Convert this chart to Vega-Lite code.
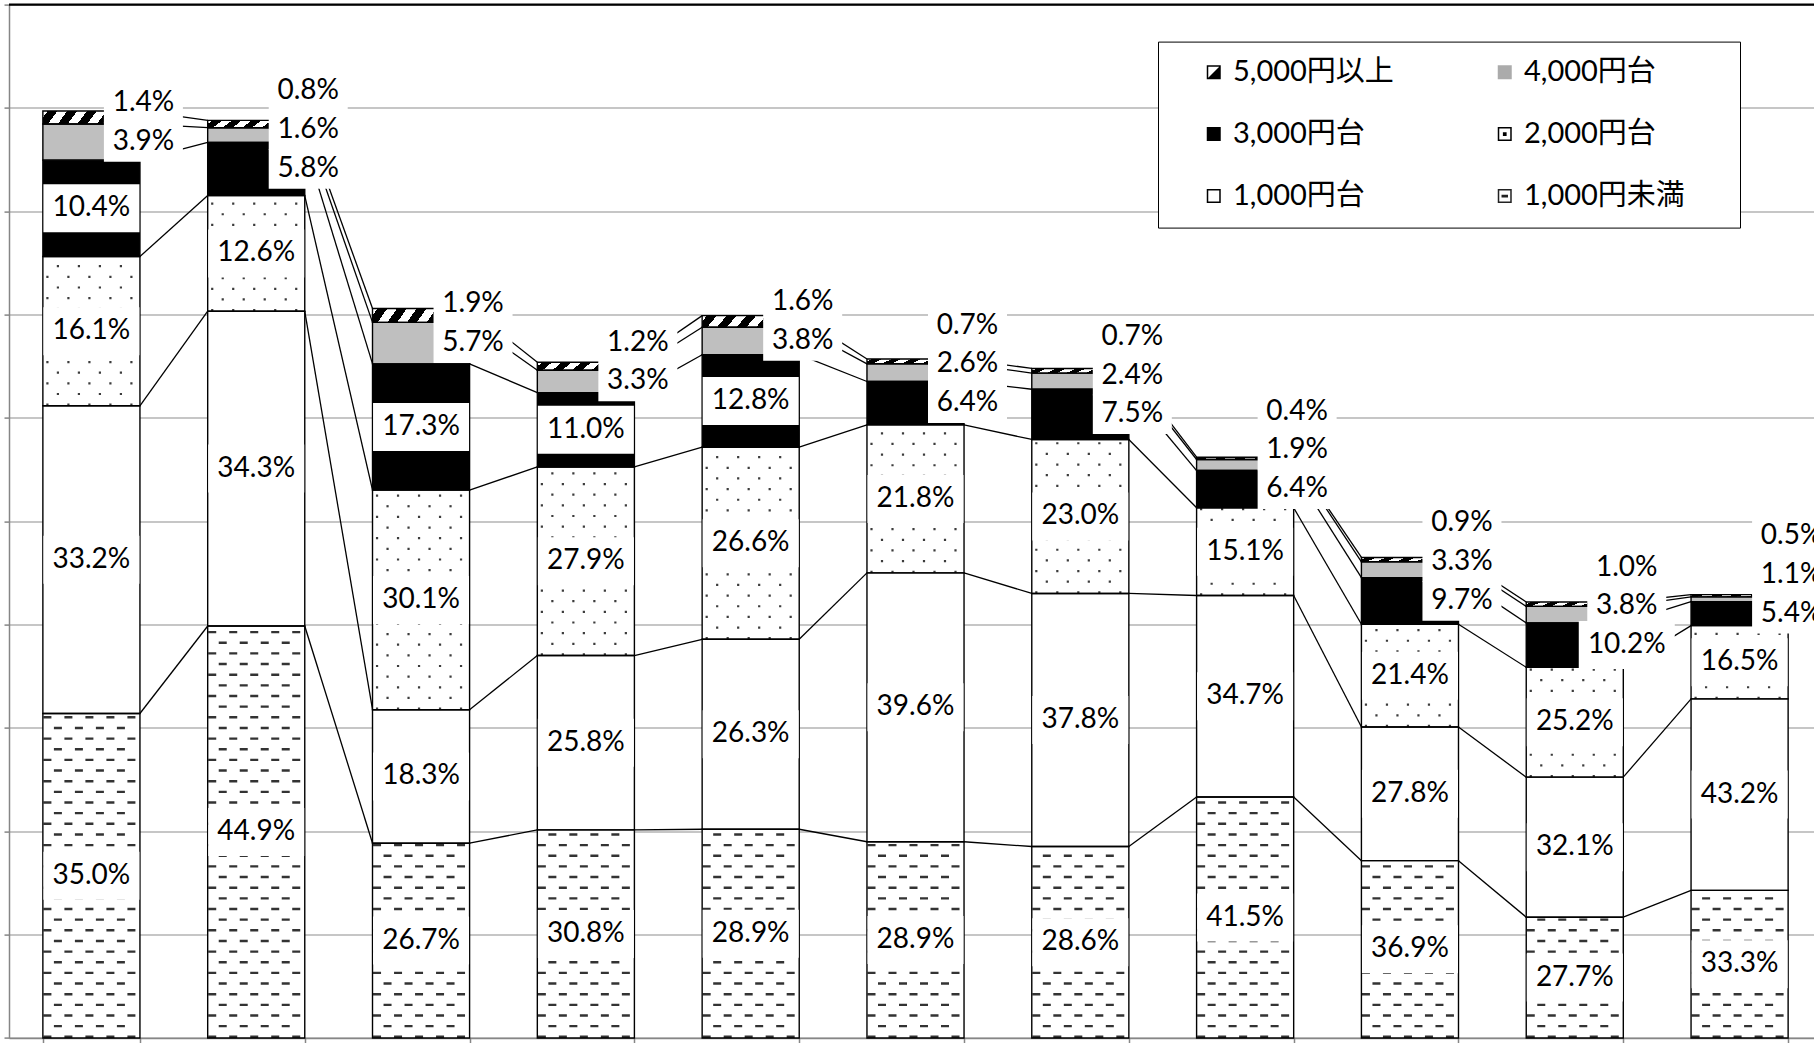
{
  "$schema": "https://vega.github.io/schema/vega-lite/v6.json",
  "width": 1805,
  "height": 1033.4,
  "autosize": {"type": "none"},
  "padding": {"left": 9, "right": 0, "top": 4.6, "bottom": 5},
  "background": "white",
  "data": {
    "values": [
      {"bar": 1, "segment": "1,000円未満", "value": 31.40, "pct": 35.0},
      {"bar": 1, "segment": "1,000円台", "value": 29.78, "pct": 33.2},
      {"bar": 1, "segment": "2,000円台", "value": 14.44, "pct": 16.1},
      {"bar": 1, "segment": "3,000円台", "value": 9.33, "pct": 10.4},
      {"bar": 1, "segment": "4,000円台", "value": 3.50, "pct": 3.9},
      {"bar": 1, "segment": "5,000円以上", "value": 1.26, "pct": 1.4},
      {"bar": 2, "segment": "1,000円未満", "value": 39.87, "pct": 44.9},
      {"bar": 2, "segment": "1,000円台", "value": 30.46, "pct": 34.3},
      {"bar": 2, "segment": "2,000円台", "value": 11.19, "pct": 12.6},
      {"bar": 2, "segment": "3,000円台", "value": 5.15, "pct": 5.8},
      {"bar": 2, "segment": "4,000円台", "value": 1.42, "pct": 1.6},
      {"bar": 2, "segment": "5,000円以上", "value": 0.71, "pct": 0.8},
      {"bar": 3, "segment": "1,000円未満", "value": 18.85, "pct": 26.7},
      {"bar": 3, "segment": "1,000円台", "value": 12.92, "pct": 18.3},
      {"bar": 3, "segment": "2,000円台", "value": 21.25, "pct": 30.1},
      {"bar": 3, "segment": "3,000円台", "value": 12.21, "pct": 17.3},
      {"bar": 3, "segment": "4,000円台", "value": 4.02, "pct": 5.7},
      {"bar": 3, "segment": "5,000円以上", "value": 1.34, "pct": 1.9},
      {"bar": 4, "segment": "1,000円未満", "value": 20.14, "pct": 30.8},
      {"bar": 4, "segment": "1,000円台", "value": 16.87, "pct": 25.8},
      {"bar": 4, "segment": "2,000円台", "value": 18.25, "pct": 27.9},
      {"bar": 4, "segment": "3,000円台", "value": 7.19, "pct": 11.0},
      {"bar": 4, "segment": "4,000円台", "value": 2.16, "pct": 3.3},
      {"bar": 4, "segment": "5,000円以上", "value": 0.78, "pct": 1.2},
      {"bar": 5, "segment": "1,000円未満", "value": 20.20, "pct": 28.9},
      {"bar": 5, "segment": "1,000円台", "value": 18.38, "pct": 26.3},
      {"bar": 5, "segment": "2,000円台", "value": 18.59, "pct": 26.6},
      {"bar": 5, "segment": "3,000円台", "value": 8.95, "pct": 12.8},
      {"bar": 5, "segment": "4,000円台", "value": 2.66, "pct": 3.8},
      {"bar": 5, "segment": "5,000円以上", "value": 1.12, "pct": 1.6},
      {"bar": 6, "segment": "1,000円未満", "value": 18.99, "pct": 28.9},
      {"bar": 6, "segment": "1,000円台", "value": 26.02, "pct": 39.6},
      {"bar": 6, "segment": "2,000円台", "value": 14.32, "pct": 21.8},
      {"bar": 6, "segment": "3,000円台", "value": 4.20, "pct": 6.4},
      {"bar": 6, "segment": "4,000円台", "value": 1.71, "pct": 2.6},
      {"bar": 6, "segment": "5,000円以上", "value": 0.46, "pct": 0.7},
      {"bar": 7, "segment": "1,000円未満", "value": 18.53, "pct": 28.6},
      {"bar": 7, "segment": "1,000円台", "value": 24.49, "pct": 37.8},
      {"bar": 7, "segment": "2,000円台", "value": 14.90, "pct": 23.0},
      {"bar": 7, "segment": "3,000円台", "value": 4.86, "pct": 7.5},
      {"bar": 7, "segment": "4,000円台", "value": 1.56, "pct": 2.4},
      {"bar": 7, "segment": "5,000円以上", "value": 0.45, "pct": 0.7},
      {"bar": 8, "segment": "1,000円未満", "value": 23.32, "pct": 41.5},
      {"bar": 8, "segment": "1,000円台", "value": 19.50, "pct": 34.7},
      {"bar": 8, "segment": "2,000円台", "value": 8.49, "pct": 15.1},
      {"bar": 8, "segment": "3,000円台", "value": 3.60, "pct": 6.4},
      {"bar": 8, "segment": "4,000円台", "value": 1.07, "pct": 1.9},
      {"bar": 8, "segment": "5,000円以上", "value": 0.22, "pct": 0.4},
      {"bar": 9, "segment": "1,000円未満", "value": 17.16, "pct": 36.9},
      {"bar": 9, "segment": "1,000円台", "value": 12.93, "pct": 27.8},
      {"bar": 9, "segment": "2,000円台", "value": 9.95, "pct": 21.4},
      {"bar": 9, "segment": "3,000円台", "value": 4.51, "pct": 9.7},
      {"bar": 9, "segment": "4,000円台", "value": 1.53, "pct": 3.3},
      {"bar": 9, "segment": "5,000円以上", "value": 0.42, "pct": 0.9},
      {"bar": 10, "segment": "1,000円未満", "value": 11.69, "pct": 27.7},
      {"bar": 10, "segment": "1,000円台", "value": 13.55, "pct": 32.1},
      {"bar": 10, "segment": "2,000円台", "value": 10.63, "pct": 25.2},
      {"bar": 10, "segment": "3,000円台", "value": 4.30, "pct": 10.2},
      {"bar": 10, "segment": "4,000円台", "value": 1.60, "pct": 3.8},
      {"bar": 10, "segment": "5,000円以上", "value": 0.42, "pct": 1.0},
      {"bar": 11, "segment": "1,000円未満", "value": 14.29, "pct": 33.3},
      {"bar": 11, "segment": "1,000円台", "value": 18.53, "pct": 43.2},
      {"bar": 11, "segment": "2,000円台", "value": 7.08, "pct": 16.5},
      {"bar": 11, "segment": "3,000円台", "value": 2.32, "pct": 5.4},
      {"bar": 11, "segment": "4,000円台", "value": 0.47, "pct": 1.1},
      {"bar": 11, "segment": "5,000円以上", "value": 0.21, "pct": 0.5}
    ]
  },
  "transform": [
    {"calculate": "indexof(['1,000円未満','1,000円台','2,000円台','3,000円台','4,000円台','5,000円以上'], datum.segment)", "as": "k"},
    {"stack": "value", "groupby": ["bar"], "sort": [{"field": "k", "order": "ascending"}], "as": ["v0", "v1"]},
    {"window": [{"op": "lead", "field": "bar", "as": "nextBar"}, {"op": "lead", "field": "v1", "as": "v1next"}], "groupby": ["segment"], "sort": [{"field": "bar", "order": "ascending"}]},
    {"calculate": "(datum.v0 + datum.v1) / 2", "as": "c"},
    {"calculate": "datum.k == 1 ? datum.c : null", "as": "c1t"},
    {"calculate": "datum.k == 3 ? (datum.value < 6 ? datum.c : -999) : null", "as": "r3t"},
    {"calculate": "datum.k == 4 ? datum.c : null", "as": "c4t"},
    {"calculate": "datum.k == 5 ? datum.c : null", "as": "c5t"},
    {"joinaggregate": [{"op": "max", "field": "c1t", "as": "C1"}, {"op": "max", "field": "r3t", "as": "R3"}, {"op": "max", "field": "c4t", "as": "C4"}, {"op": "max", "field": "c5t", "as": "C5"}], "groupby": ["bar"]},
    {"calculate": "max(datum.C4, datum.R3 + 3.75)", "as": "L4"},
    {"calculate": "max(datum.C5, datum.L4 + 3.75)", "as": "L5"},
    {"calculate": "datum.k == 5 ? datum.L5 : (datum.k == 4 ? datum.L4 : datum.c)", "as": "ly"},
    {"calculate": "(datum.k >= 4 || datum.value < 6) ? 'right' : 'inside'", "as": "place"},
    {"calculate": "format(datum.pct, '.1f') + '%'", "as": "lbl"}
  ],
  "layer": [
    {
      "mark": {"type": "point", "filled": true, "size": 2162, "opacity": 1, "strokeWidth": 0},
      "encoding": {
        "x": {"field": "bar", "type": "ordinal", "title": null},
        "y": {"field": "C1", "type": "quantitative", "title": null},
        "color": {"field": "segment", "type": "nominal", "title": "\u00a0",
          "scale": {"domain": ["5,000円以上","4,000円台","3,000円台","2,000円台","1,000円台","1,000円未満"], "range": ["#000000","#ababab","#000000","#000000","#000000","#222222"]},
          "legend": {"orient": "none", "legendX": 1149, "legendY": 37, "columns": 2, "direction": "horizontal", "padding": 16,
            "titleOrient": "right", "titlePadding": 38.5, "titleFontSize": 29, "titleFont": "Lato",
            "strokeColor": "black", "fillColor": "white", "clipHeight": 29,
            "rowPadding": 32, "columnPadding": 71, "labelOffset": 12, "symbolSize": 2162,
            "labelFont": "Lato, Noto Sans CJK JP", "labelFontSize": 29, "labelColor": "black", "labelLimit": 400,
            "symbolOpacity": 1, "symbolStrokeWidth": 0}},
        "shape": {"field": "segment", "type": "nominal", "title": "\u00a0",
          "scale": {"domain": ["5,000円以上","4,000円台","3,000円台","2,000円台","1,000円台","1,000円未満"],
            "range": [
              "M0.398,-0.301H1V0.301H0.398Z M0.463,-0.236V0.236H0.935V-0.236Z M0.935,-0.236V0.236H0.463Z",
              "M0.398,-0.301H1V0.301H0.398Z",
              "M0.398,-0.301H1V0.301H0.398Z",
              "M0.398,-0.301H1V0.301H0.398Z M0.463,-0.236V0.236H0.935V-0.236Z M0.619,-0.08H0.779V0.08H0.619Z",
              "M0.398,-0.301H1V0.301H0.398Z M0.463,-0.236V0.236H0.935V-0.236Z",
              "M0.398,-0.301H1V0.301H0.398Z M0.463,-0.236V0.236H0.935V-0.236Z M0.56,-0.055H0.84V0.055H0.56Z"
            ]}}
      }
    },
    {
      "mark": {"type": "bar"},
      "encoding": {
        "x": {"field": "bar", "type": "ordinal", "title": null,
              "scale": {"type": "band", "domain": [1,2,3,4,5,6,7,8,9,10,11], "range": [0, 1813], "paddingInner": 0.411, "paddingOuter": 0.2055}},
        "y": {"field": "v0", "type": "quantitative", "title": null, "scale": {"domain": [0, 100], "nice": false, "zero": true}},
        "y2": {"field": "v1"},
        "fill": {"field": "segment", "type": "nominal", "legend": null,
                 "scale": {"domain": ["1,000円未満","1,000円台","2,000円台","3,000円台","4,000円台","5,000円以上"], "range": ["#ffffff","#ffffff","#ffffff","#000000","#bfbfbf","#ffffff"]}}
      }
    },
    {"transform": [{"filter": "datum.k == 0"}], "mark": {"type": "rule", "color": "#333333", "strokeWidth": 8, "strokeDash": [2.4, 18.9], "xOffset": -44}, "encoding": {"x": {"field": "bar", "type": "ordinal", "title": null}, "y": {"field": "v0", "type": "quantitative", "title": null}, "y2": {"field": "v1"}}},
    {"transform": [{"filter": "datum.k == 0"}], "mark": {"type": "rule", "color": "#333333", "strokeWidth": 8, "strokeDash": [2.4, 18.9], "xOffset": -23}, "encoding": {"x": {"field": "bar", "type": "ordinal", "title": null}, "y": {"field": "v0", "type": "quantitative", "title": null}, "y2": {"field": "v1"}}},
    {"transform": [{"filter": "datum.k == 0"}], "mark": {"type": "rule", "color": "#333333", "strokeWidth": 8, "strokeDash": [2.4, 18.9], "xOffset": -2}, "encoding": {"x": {"field": "bar", "type": "ordinal", "title": null}, "y": {"field": "v0", "type": "quantitative", "title": null}, "y2": {"field": "v1"}}},
    {"transform": [{"filter": "datum.k == 0"}], "mark": {"type": "rule", "color": "#333333", "strokeWidth": 8, "strokeDash": [2.4, 18.9], "xOffset": 19}, "encoding": {"x": {"field": "bar", "type": "ordinal", "title": null}, "y": {"field": "v0", "type": "quantitative", "title": null}, "y2": {"field": "v1"}}},
    {"transform": [{"filter": "datum.k == 0"}], "mark": {"type": "rule", "color": "#333333", "strokeWidth": 8, "strokeDash": [2.4, 18.9], "xOffset": 40}, "encoding": {"x": {"field": "bar", "type": "ordinal", "title": null}, "y": {"field": "v0", "type": "quantitative", "title": null}, "y2": {"field": "v1"}}},
    {"transform": [{"filter": "datum.k == 0"}], "mark": {"type": "rule", "color": "#333333", "strokeWidth": 8, "strokeDash": [2.4, 18.9], "strokeDashOffset": 10.65, "xOffset": -33.5}, "encoding": {"x": {"field": "bar", "type": "ordinal", "title": null}, "y": {"field": "v0", "type": "quantitative", "title": null}, "y2": {"field": "v1"}}},
    {"transform": [{"filter": "datum.k == 0"}], "mark": {"type": "rule", "color": "#333333", "strokeWidth": 8, "strokeDash": [2.4, 18.9], "strokeDashOffset": 10.65, "xOffset": -12.5}, "encoding": {"x": {"field": "bar", "type": "ordinal", "title": null}, "y": {"field": "v0", "type": "quantitative", "title": null}, "y2": {"field": "v1"}}},
    {"transform": [{"filter": "datum.k == 0"}], "mark": {"type": "rule", "color": "#333333", "strokeWidth": 8, "strokeDash": [2.4, 18.9], "strokeDashOffset": 10.65, "xOffset": 8.5}, "encoding": {"x": {"field": "bar", "type": "ordinal", "title": null}, "y": {"field": "v0", "type": "quantitative", "title": null}, "y2": {"field": "v1"}}},
    {"transform": [{"filter": "datum.k == 0"}], "mark": {"type": "rule", "color": "#333333", "strokeWidth": 8, "strokeDash": [2.4, 18.9], "strokeDashOffset": 10.65, "xOffset": 29.5}, "encoding": {"x": {"field": "bar", "type": "ordinal", "title": null}, "y": {"field": "v0", "type": "quantitative", "title": null}, "y2": {"field": "v1"}}},
    {"transform": [{"filter": "datum.k == 2"}], "mark": {"type": "rule", "color": "#3c3c3c", "strokeWidth": 2.2, "strokeDash": [2.2, 19.1], "xOffset": -44}, "encoding": {"x": {"field": "bar", "type": "ordinal", "title": null}, "y": {"field": "v0", "type": "quantitative", "title": null}, "y2": {"field": "v1"}}},
    {"transform": [{"filter": "datum.k == 2"}], "mark": {"type": "rule", "color": "#3c3c3c", "strokeWidth": 2.2, "strokeDash": [2.2, 19.1], "xOffset": -23}, "encoding": {"x": {"field": "bar", "type": "ordinal", "title": null}, "y": {"field": "v0", "type": "quantitative", "title": null}, "y2": {"field": "v1"}}},
    {"transform": [{"filter": "datum.k == 2"}], "mark": {"type": "rule", "color": "#3c3c3c", "strokeWidth": 2.2, "strokeDash": [2.2, 19.1], "xOffset": -2}, "encoding": {"x": {"field": "bar", "type": "ordinal", "title": null}, "y": {"field": "v0", "type": "quantitative", "title": null}, "y2": {"field": "v1"}}},
    {"transform": [{"filter": "datum.k == 2"}], "mark": {"type": "rule", "color": "#3c3c3c", "strokeWidth": 2.2, "strokeDash": [2.2, 19.1], "xOffset": 19}, "encoding": {"x": {"field": "bar", "type": "ordinal", "title": null}, "y": {"field": "v0", "type": "quantitative", "title": null}, "y2": {"field": "v1"}}},
    {"transform": [{"filter": "datum.k == 2"}], "mark": {"type": "rule", "color": "#3c3c3c", "strokeWidth": 2.2, "strokeDash": [2.2, 19.1], "xOffset": 40}, "encoding": {"x": {"field": "bar", "type": "ordinal", "title": null}, "y": {"field": "v0", "type": "quantitative", "title": null}, "y2": {"field": "v1"}}},
    {"transform": [{"filter": "datum.k == 2"}], "mark": {"type": "rule", "color": "#3c3c3c", "strokeWidth": 2.2, "strokeDash": [2.2, 19.1], "strokeDashOffset": 10.65, "xOffset": -33.5}, "encoding": {"x": {"field": "bar", "type": "ordinal", "title": null}, "y": {"field": "v0", "type": "quantitative", "title": null}, "y2": {"field": "v1"}}},
    {"transform": [{"filter": "datum.k == 2"}], "mark": {"type": "rule", "color": "#3c3c3c", "strokeWidth": 2.2, "strokeDash": [2.2, 19.1], "strokeDashOffset": 10.65, "xOffset": -12.5}, "encoding": {"x": {"field": "bar", "type": "ordinal", "title": null}, "y": {"field": "v0", "type": "quantitative", "title": null}, "y2": {"field": "v1"}}},
    {"transform": [{"filter": "datum.k == 2"}], "mark": {"type": "rule", "color": "#3c3c3c", "strokeWidth": 2.2, "strokeDash": [2.2, 19.1], "strokeDashOffset": 10.65, "xOffset": 8.5}, "encoding": {"x": {"field": "bar", "type": "ordinal", "title": null}, "y": {"field": "v0", "type": "quantitative", "title": null}, "y2": {"field": "v1"}}},
    {"transform": [{"filter": "datum.k == 2"}], "mark": {"type": "rule", "color": "#3c3c3c", "strokeWidth": 2.2, "strokeDash": [2.2, 19.1], "strokeDashOffset": 10.65, "xOffset": 29.5}, "encoding": {"x": {"field": "bar", "type": "ordinal", "title": null}, "y": {"field": "v0", "type": "quantitative", "title": null}, "y2": {"field": "v1"}}},
    {
      "transform": [{"filter": "datum.k == 5"}],
      "mark": {"type": "bar", "color": {"gradient": "linear", "x1": 0, "y1": 0, "x2": 1, "y2": 0.1,
        "stops": [
          {"offset": 0, "color": "white"}, {"offset": 0.05, "color": "white"}, {"offset": 0.05, "color": "black"}, {"offset": 0.15, "color": "black"},
          {"offset": 0.15, "color": "white"}, {"offset": 0.25, "color": "white"}, {"offset": 0.25, "color": "black"}, {"offset": 0.35, "color": "black"},
          {"offset": 0.35, "color": "white"}, {"offset": 0.45, "color": "white"}, {"offset": 0.45, "color": "black"}, {"offset": 0.55, "color": "black"},
          {"offset": 0.55, "color": "white"}, {"offset": 0.65, "color": "white"}, {"offset": 0.65, "color": "black"}, {"offset": 0.75, "color": "black"},
          {"offset": 0.75, "color": "white"}, {"offset": 0.85, "color": "white"}, {"offset": 0.85, "color": "black"}, {"offset": 0.95, "color": "black"},
          {"offset": 0.95, "color": "white"}, {"offset": 1, "color": "white"}
        ]}},
      "encoding": {"x": {"field": "bar", "type": "ordinal", "title": null}, "y": {"field": "v0", "type": "quantitative", "title": null}, "y2": {"field": "v1"}}
    },
    {
      "mark": {"type": "bar", "filled": false, "color": "black", "strokeWidth": 1.4},
      "encoding": {"x": {"field": "bar", "type": "ordinal", "title": null}, "y": {"field": "v0", "type": "quantitative", "title": null}, "y2": {"field": "v1"}}
    },
    {
      "transform": [{"filter": "datum.nextBar != null"}],
      "mark": {"type": "rule", "color": "black", "strokeWidth": 1.3, "xOffset": 48.5, "x2Offset": -48.5},
      "encoding": {
        "x": {"field": "bar", "type": "ordinal", "title": null},
        "x2": {"field": "nextBar"},
        "y": {"field": "v1", "type": "quantitative", "title": null},
        "y2": {"field": "v1next"}
      }
    },
    {
      "transform": [{"filter": "datum.place == 'inside'"}],
      "mark": {"type": "point", "shape": "M-1,-0.5H1V0.5H-1Z", "filled": true, "color": "white", "opacity": 1, "strokeWidth": 0},
      "encoding": {
        "x": {"field": "bar", "type": "ordinal", "title": null},
        "y": {"field": "ly", "type": "quantitative", "title": null},
        "size": {"condition": {"test": "length(datum.lbl) > 4", "value": 9216}, "value": 6241}
      }
    },
    {
      "transform": [{"filter": "datum.place == 'right'"}],
      "mark": {"type": "point", "shape": "M-1,-0.5H1V0.5H-1Z", "filled": true, "color": "white", "opacity": 1, "strokeWidth": 0, "xOffset": 52},
      "encoding": {
        "x": {"field": "bar", "type": "ordinal", "title": null},
        "y": {"field": "ly", "type": "quantitative", "title": null},
        "size": {"condition": {"test": "length(datum.lbl) > 4", "value": 9216}, "value": 6241}
      }
    },
    {
      "transform": [{"filter": "datum.place == 'inside'"}],
      "mark": {"type": "text", "font": "Lato", "fontSize": 28, "color": "black", "align": "center", "baseline": "middle"},
      "encoding": {
        "x": {"field": "bar", "type": "ordinal", "title": null},
        "y": {"field": "ly", "type": "quantitative", "title": null},
        "text": {"field": "lbl"}
      }
    },
    {
      "transform": [{"filter": "datum.place == 'right'"}],
      "mark": {"type": "text", "font": "Lato", "fontSize": 28, "color": "black", "align": "center", "baseline": "middle", "dx": 52},
      "encoding": {
        "x": {"field": "bar", "type": "ordinal", "title": null},
        "y": {"field": "ly", "type": "quantitative", "title": null},
        "text": {"field": "lbl"}
      }
    },
    {
      "data": {"values": [{}]},
      "mark": {"type": "rule", "color": "black", "strokeWidth": 2.2},
      "encoding": {"y": {"datum": 100, "type": "quantitative", "title": null}}
    }
  ],
  "config": {
    "view": {"stroke": null},
    "axisX": {"labels": false, "domainColor": "#868686", "domainWidth": 1.5, "ticks": true, "tickColor": "#868686", "tickWidth": 1.5, "tickSize": 8, "tickBand": "extent", "grid": false},
    "axisY": {"labels": false, "domainColor": "#868686", "domainWidth": 1.5, "ticks": true, "tickColor": "#868686", "tickWidth": 1.5, "tickSize": 5, "grid": true, "gridColor": "#b3b3b3", "gridWidth": 1.5, "tickCount": 10}
  }
}
